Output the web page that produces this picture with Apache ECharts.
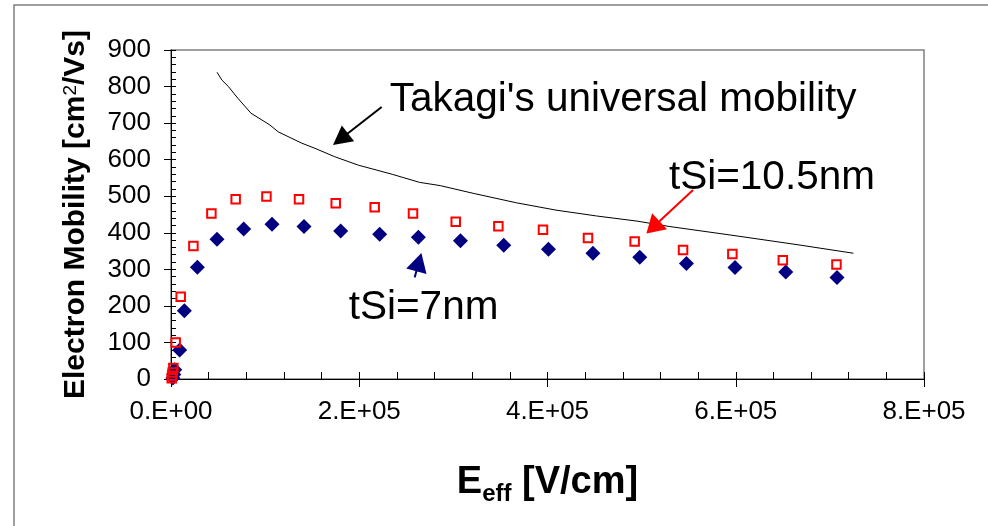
<!DOCTYPE html>
<html>
<head>
<meta charset="utf-8">
<script src="https://cdn.jsdelivr.net/npm/echarts@6/dist/echarts.min.js"></script>
<style>
  html, body { margin: 0; padding: 0; background: #fff; }
  #chart { width: 988px; height: 526px; }
</style>
</head>
<body>
<div id="chart"></div>
<script>
// Measured electron mobility vs effective field, two SOI film thicknesses
const fieldThin = [2000, 3000, 4000, 9200, 14200, 28000, 48900, 77200, 107300, 141300, 180300, 221700, 262800, 307500, 353500, 401000, 448300, 498000, 547600, 599200, 653100, 707600];
const mobilityThin = [3, 12, 25, 79, 187, 306, 382, 410, 423, 417, 405, 396, 388, 378, 366, 355, 344, 333, 316, 305, 293, 278];

const fieldThick = [800, 1200, 1800, 2500, 5000, 10300, 23800, 42900, 68700, 101400, 136000, 175000, 216400, 257100, 302500, 347800, 395200, 443000, 492600, 544000, 596400, 650000, 707000];
const mobilityThick = [2, 9, 18, 30, 100, 225, 364, 453, 492, 499, 492, 481, 470, 453, 430, 418, 408, 386, 376, 353, 342, 325, 313];

// Universal mobility curve (Takagi)
const fieldUniversal = [49000, 54000, 61000, 71000, 85000, 105000, 114000, 139000, 153000, 174000, 199000, 235000, 264000, 286000, 321000, 367000, 409000, 452000, 495000, 530000, 594000, 664000, 725000];
const mobilityUniversal = [839, 818, 800, 768, 727, 695, 676, 645, 631, 608, 585, 560, 538, 529, 508, 482, 462, 446, 432, 417, 394, 368, 344];

// Axis tick labels
const xTickValues = [0, 200000, 400000, 600000, 800000];
const xTickLabels = ['0.E+00', '2.E+05', '4.E+05', '6.E+05', '8.E+05'];

const FONT = '"Liberation Sans", Arial, Helvetica, sans-serif';

const pairs = (xs, ys) => xs.map((x, i) => [x, ys[i]]);

const chart = echarts.init(document.getElementById('chart'), null, { renderer: 'canvas' });

const gridRect = { left: 171, right: 64, top: 50, bottom: 147 };

const option = {
  backgroundColor: '#fff',
  animation: false,
  grid: [
    Object.assign({ show: true, borderColor: '#808080', borderWidth: 1.5, backgroundColor: 'transparent' }, gridRect),
    Object.assign({ show: false }, gridRect)
  ],
  xAxis: [
    {
      type: 'value', gridIndex: 0, min: 0, max: 800000, interval: 200000,
      axisLine: { show: true, onZero: false, lineStyle: { color: '#000', width: 1 } },
      axisTick: { show: true, inside: false, length: 8, lineStyle: { color: '#000', width: 1 } },
      splitLine: { show: false },
      axisLabel: {
        margin: 20, color: '#000', fontFamily: FONT, fontSize: 26,
        formatter: v => { const i = xTickValues.indexOf(v); return i >= 0 ? xTickLabels[i] : ''; }
      },
      name: 'E{sub|eff} [V/cm]',
      nameLocation: 'middle', nameGap: 85,
      nameTextStyle: {
        color: '#000', fontFamily: FONT, fontSize: 38, fontWeight: 'bold',
        rich: { sub: { fontFamily: FONT, fontSize: 24, fontWeight: 'bold', color: '#000', verticalAlign: 'bottom', padding: [0, 0, -4, 0] } }
      }
    },
    {
      type: 'value', gridIndex: 1, min: 0, max: 800000, interval: 200000,
      axisLine: { show: false },
      axisTick: { show: true, inside: true, length: 7, lineStyle: { color: '#000', width: 1 } },
      minorTick: { show: true, splitNumber: 5, length: 7, lineStyle: { color: '#000', width: 1 } },
      splitLine: { show: false }, minorSplitLine: { show: false },
      axisLabel: { show: false }
    }
  ],
  yAxis: [
    {
      type: 'value', gridIndex: 0, min: 0, max: 900, interval: 100,
      axisLine: { show: true, onZero: false, lineStyle: { color: '#000', width: 1 } },
      axisTick: { show: true, inside: false, length: 7, lineStyle: { color: '#000', width: 1 } },
      splitLine: { show: false },
      axisLabel: { margin: 20, color: '#000', fontFamily: FONT, fontSize: 26 },
      name: 'Electron Mobility [cm{sup|2}/Vs]',
      nameLocation: 'middle', nameGap: 80, nameRotate: 90,
      nameTextStyle: {
        color: '#000', fontFamily: FONT, fontSize: 30, fontWeight: 'bold',
        rich: { sup: { fontFamily: FONT, fontSize: 19, fontWeight: 'normal', color: '#000', verticalAlign: 'top' } }
      }
    },
    {
      type: 'value', gridIndex: 1, min: 0, max: 900, interval: 100,
      axisLine: { show: false },
      axisTick: { show: true, inside: true, length: 5, lineStyle: { color: '#000', width: 1 } },
      minorTick: { show: true, splitNumber: 5, length: 5, lineStyle: { color: '#000', width: 1 } },
      splitLine: { show: false }, minorSplitLine: { show: false },
      axisLabel: { show: false }
    }
  ],
  series: [
    {
      name: 'Takagi universal mobility', type: 'line', xAxisIndex: 0, yAxisIndex: 0,
      data: pairs(fieldUniversal, mobilityUniversal),
      showSymbol: false, smooth: false,
      lineStyle: { color: '#000', width: 1 }
    },
    {
      name: 'tSi=7nm', type: 'scatter', xAxisIndex: 0, yAxisIndex: 0,
      data: pairs(fieldThin, mobilityThin),
      symbol: 'diamond', symbolSize: 15,
      itemStyle: { color: '#000080', opacity: 1 }
    },
    {
      name: 'tSi=10.5nm', type: 'scatter', xAxisIndex: 0, yAxisIndex: 0,
      data: pairs(fieldThick, mobilityThick),
      symbol: 'rect', symbolSize: 8.5,
      itemStyle: { color: 'rgba(0,0,0,0)', borderColor: '#ff0000', borderWidth: 2, opacity: 1 }
    }
  ]
};

chart.setOption(option);

// Callouts, anchored in data units (field, mobility)
const labels = [
  { text: "Takagi's universal mobility", at: [232300, 763] },
  { text: 'tSi=10.5nm', at: [529000, 550] },
  { text: 'tSi=7nm', at: [188800, 195] }
];
const arrows = [
  { from: [223800, 744], to: [172100, 640], color: '#000000', head: 19, half: 10 },
  { from: [554600, 517], to: [505100, 398], color: '#ff0000', head: 18, half: 11 },
  { from: [258900, 278], to: [266000, 345], color: '#000080', head: 19, half: 10.5 }
];

const toPx = p => chart.convertToPixel({ gridIndex: 0 }, p);
const elements = [];

// Outer frame of the figure
elements.push({
  type: 'rect', shape: { x: 14, y: 5, width: 1000, height: 600 },
  style: { fill: 'none', stroke: '#808080', lineWidth: 1.5 }, silent: true, z: 0
});

labels.forEach(l => {
  const p = toPx(l.at);
  elements.push({
    type: 'text', x: p[0], y: p[1], z: 10,
    style: { text: l.text, fontFamily: FONT, fontSize: 40.5, fill: '#000', align: 'left', verticalAlign: 'middle' }
  });
});

arrows.forEach(a => {
  const p0 = toPx(a.from), p1 = toPx(a.to);
  const dx = p1[0] - p0[0], dy = p1[1] - p0[1];
  const len = Math.hypot(dx, dy);
  const ux = dx / len, uy = dy / len;
  const bx = p1[0] - ux * a.head, by = p1[1] - uy * a.head;
  elements.push({
    type: 'line', z: 10,
    shape: { x1: p0[0], y1: p0[1], x2: bx + ux * 2, y2: by + uy * 2 },
    style: { stroke: a.color, lineWidth: 2 }
  });
  elements.push({
    type: 'polygon', z: 10,
    shape: { points: [[p1[0], p1[1]], [bx - uy * a.half, by + ux * a.half], [bx + uy * a.half, by - ux * a.half]] },
    style: { fill: a.color }
  });
});

chart.setOption({ graphic: { elements } });
</script>
</body>
</html>
